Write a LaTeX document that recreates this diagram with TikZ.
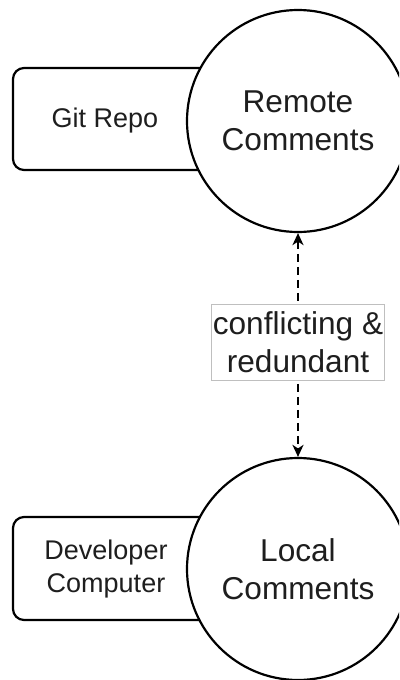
\documentclass[tikz,border=0pt]{standalone}
\usepackage{fontspec}
\setmainfont{Liberation Sans}
\usetikzlibrary{arrows.meta}
\definecolor{ink}{HTML}{1E1E1E}
\begin{document}
\begin{tikzpicture}[x=1pt,y=-1pt,
  place/.style={draw=black, line width=2.2pt, rounded corners=11pt, fill=white},
  bubble/.style={circle, draw=black, line width=2.2pt, fill=white, minimum size=222pt, inner sep=0pt, align=center, text=ink, font=\fontsize{31.6}{38}\selectfont},
  placetext/.style={align=center, text=ink, font=\fontsize{27}{33}\selectfont},
  labelbox/.style={draw=black!25, line width=1pt, fill=white, align=center, text=ink, font=\fontsize{31.6}{38}\selectfont, minimum width=173pt, minimum height=76pt, inner sep=0pt},
  link/.style={line width=2.4pt, dash pattern=on 8pt off 5pt, {Stealth[length=12pt,width=11pt,inset=3.5pt]}-{Stealth[length=12pt,width=11pt,inset=3.5pt]}}
]
\clip (0,0) rectangle (399,680);
\fill[white] (0,0) rectangle (399,680);
% top group
\draw[place] (13,68) rectangle (250,170);
\node[placetext] (git) at (105,121) {Git Repo};
\node[bubble] (remote) at (298,121) {Remote\\Comments};
% bottom group
\draw[place] (13,517) rectangle (250,620);
\node[placetext] (dev) at (106,569) {Developer\\Computer};
\node[bubble] (local) at (298,569) {Local\\Comments};
% connector
\draw[link] (remote.south) -- (local.north);
\node[labelbox] (lbl) at (298,342) {conflicting \&\\redundant};
\end{tikzpicture}
\end{document}
